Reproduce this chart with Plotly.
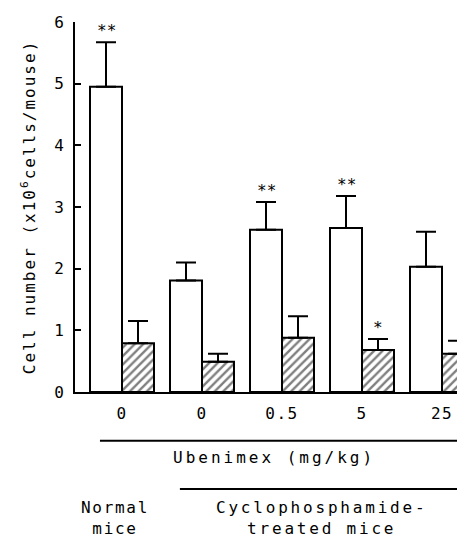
import plotly.graph_objects as go

groups = [0, 1, 2, 3, 4]
dose_labels = ["0", "0", "0.5", "5", "25"]
white_vals = [4.95, 1.81, 2.63, 2.66, 2.03]
white_err = [0.72, 0.29, 0.45, 0.52, 0.57]
hatch_vals = [0.79, 0.49, 0.88, 0.68, 0.62]
hatch_err = [0.36, 0.13, 0.35, 0.18, 0.21]
white_sig = ["**", "", "**", "**", ""]
hatch_sig = ["", "", "", "*", ""]

FONT = "DejaVu Sans Mono"


def spaced(t, px):
    return f'<span style="letter-spacing:{px}px">{t}</span>'


fig = go.Figure()
fig.add_trace(go.Bar(
    x=groups, y=white_vals,
    marker=dict(color="white", line=dict(color="black", width=2)),
    error_y=dict(type="data", symmetric=False, array=white_err,
                 arrayminus=[0] * len(white_err), color="black", thickness=2, width=10),
    showlegend=False,
))
fig.add_trace(go.Bar(
    x=groups, y=hatch_vals,
    marker=dict(color="white", line=dict(color="black", width=2),
                pattern=dict(shape="/", fgcolor="black", bgcolor="white", size=6, solidity=0.4)),
    error_y=dict(type="data", symmetric=False, array=hatch_err,
                 arrayminus=[0] * len(hatch_err), color="black", thickness=2, width=10),
    showlegend=False,
))

annotations = []
for i, g in enumerate(groups):
    if white_sig[i]:
        annotations.append(dict(x=g - 0.2, y=white_vals[i] + white_err[i], xref="x", yref="y",
                                text=white_sig[i], showarrow=False, yanchor="bottom", xanchor="center",
                                font=dict(family=FONT, size=16, color="black")))
    if hatch_sig[i]:
        annotations.append(dict(x=g + 0.2, y=hatch_vals[i] + hatch_err[i], xref="x", yref="y",
                                text=hatch_sig[i], showarrow=False, yanchor="bottom", xanchor="center",
                                font=dict(family=FONT, size=16, color="black")))

annotations += [
    dict(x=-0.12, y=0.5, xref="paper", yref="paper",
         text=spaced("Cell number (x10<sup>6</sup>cells/mouse)", 2),
         textangle=-90, showarrow=False, xanchor="center", yanchor="middle",
         font=dict(family=FONT, size=16, color="black")),
    dict(x=0.511, y=-0.178, xref="paper", yref="paper", text=spaced("Ubenimex (mg/kg)", 3),
         showarrow=False, xanchor="center", yanchor="middle",
         font=dict(family=FONT, size=16, color="black")),
    dict(x=0.103, y=-0.34, xref="paper", yref="paper",
         text=spaced("Normal", 1.7) + "<br>" + spaced("mice", 1.7),
         showarrow=False, xanchor="center", yanchor="middle",
         font=dict(family=FONT, size=16, color="black")),
    dict(x=0.633, y=-0.34, xref="paper", yref="paper",
         text=spaced("Cyclophosphamide-", 2.8) + "<br>" + spaced("treated mice", 2.8),
         showarrow=False, xanchor="center", yanchor="middle",
         font=dict(family=FONT, size=16, color="black")),
]

shapes = [
    dict(type="line", xref="paper", yref="paper", x0=0.064, x1=1.0, y0=-0.1316, y1=-0.1316,
         line=dict(color="black", width=2)),
    dict(type="line", xref="paper", yref="paper", x0=0.269, x1=1.0, y0=-0.262, y1=-0.262,
         line=dict(color="black", width=2)),
]

fig.update_layout(
    width=457, height=530,
    margin=dict(l=67, r=0, t=14, b=146),
    paper_bgcolor="white", plot_bgcolor="white",
    barmode="group", bargap=0.2, bargroupgap=0,
    font=dict(family=FONT, size=16, color="black"),
    annotations=annotations, shapes=shapes,
    xaxis=dict(range=[-0.5875, 4.2875], tickmode="array", tickvals=groups,
               ticktext=[spaced(t, 1.5) for t in dose_labels],
               showline=True, linecolor="black", linewidth=2, ticks="", showgrid=False,
               zeroline=False, tickfont=dict(family=FONT, size=16), ticklabelstandoff=6),
    yaxis=dict(range=[0, 6], tickvals=[0, 1, 2, 3, 4, 5, 6], showline=True, linecolor="black",
               linewidth=2, ticks="inside", ticklen=6, tickwidth=2, tickcolor="black",
               showgrid=False, zeroline=False, tickfont=dict(family=FONT, size=16),
               ticklabelstandoff=6),
)

fig.write_html("out.html")
